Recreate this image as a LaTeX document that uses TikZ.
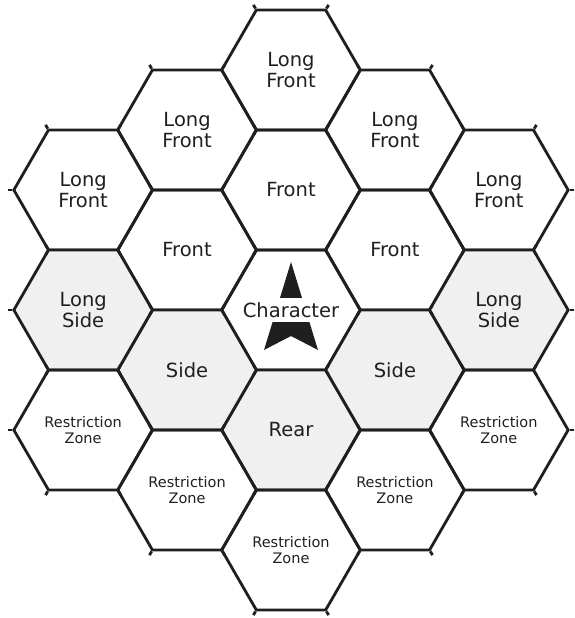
\documentclass[tikz,border=0pt]{standalone}
\usepackage{fontspec}
\setmainfont{DejaVu Sans}
\usetikzlibrary{shapes.geometric, calc}

\begin{document}
\begin{tikzpicture}[
    x=1pt, y=1pt,
    hex/.style={
        regular polygon,
        regular polygon sides=6,
        minimum size=138.6pt,
        inner sep=0pt,
        draw=black!88,
        line width=2.8pt,
        align=center,
        text=black!88,
        font=\fontsize{19.5}{21}\selectfont
    },
    sidehex/.style={hex, fill=black!6},
    zonehex/.style={hex, font=\fontsize{14.5}{15.5}\selectfont},
    stub/.style={line width=2.8pt, draw=black!88}
]
\useasboundingbox (-291,-308) rectangle (284,310);

% middle column
\node[hex] (lfc) at (0, 240) {Long\\Front};
\node[hex] (fc) at (0, 120) {Front};
\node[hex] (chr) at (0, 0) {};
\node[sidehex] (rear) at (0, -120) {Rear};
\node[zonehex] (rzc) at (0, -240) {Restriction\\Zone};

% left columns
\node[hex] (lfl) at (-103.92, 180) {Long\\Front};
\node[hex] (fl) at (-103.92, 60) {Front};
\node[sidehex] (sl) at (-103.92, -60) {Side};
\node[zonehex] (rzl) at (-103.92, -180) {Restriction\\Zone};
\node[hex] (lfll) at (-207.85, 120) {Long\\Front};
\node[sidehex] (lsl) at (-207.85, 0) {Long\\Side};
\node[zonehex] (rzll) at (-207.85, -120) {Restriction\\Zone};

% right columns
\node[hex] (lfr) at (103.92, 180) {Long\\Front};
\node[hex] (fr) at (103.92, 60) {Front};
\node[sidehex] (sr) at (103.92, -60) {Side};
\node[zonehex] (rzr) at (103.92, -180) {Restriction\\Zone};
\node[hex] (lfrr) at (207.85, 120) {Long\\Front};
\node[sidehex] (lsr) at (207.85, 0) {Long\\Side};
\node[zonehex] (rzrr) at (207.85, -120) {Restriction\\Zone};

% short stubs at the corners
\foreach \h in {lfc, fc, chr, rear, rzc, lfl, fl, sl, rzl, lfll, lsl, rzll, lfr, fr, sr, rzr, lfrr, lsr, rzrr}
    \foreach \c in {1,...,6}
        \draw[stub] (\h.corner \c) -- ($(\h.center)!1.06!(\h.corner \c)$);

% the character marker
\fill[black!88, shift={(chr.center)}] (0, 48) -- (27, -40) -- (0, -26) -- (-27, -40) -- cycle;
\node[fill=white, inner sep=4pt, text=black!88, font=\fontsize{19.5}{21}\selectfont] (chrlabel) at (chr.center) {Character};

\end{tikzpicture}
\end{document}
